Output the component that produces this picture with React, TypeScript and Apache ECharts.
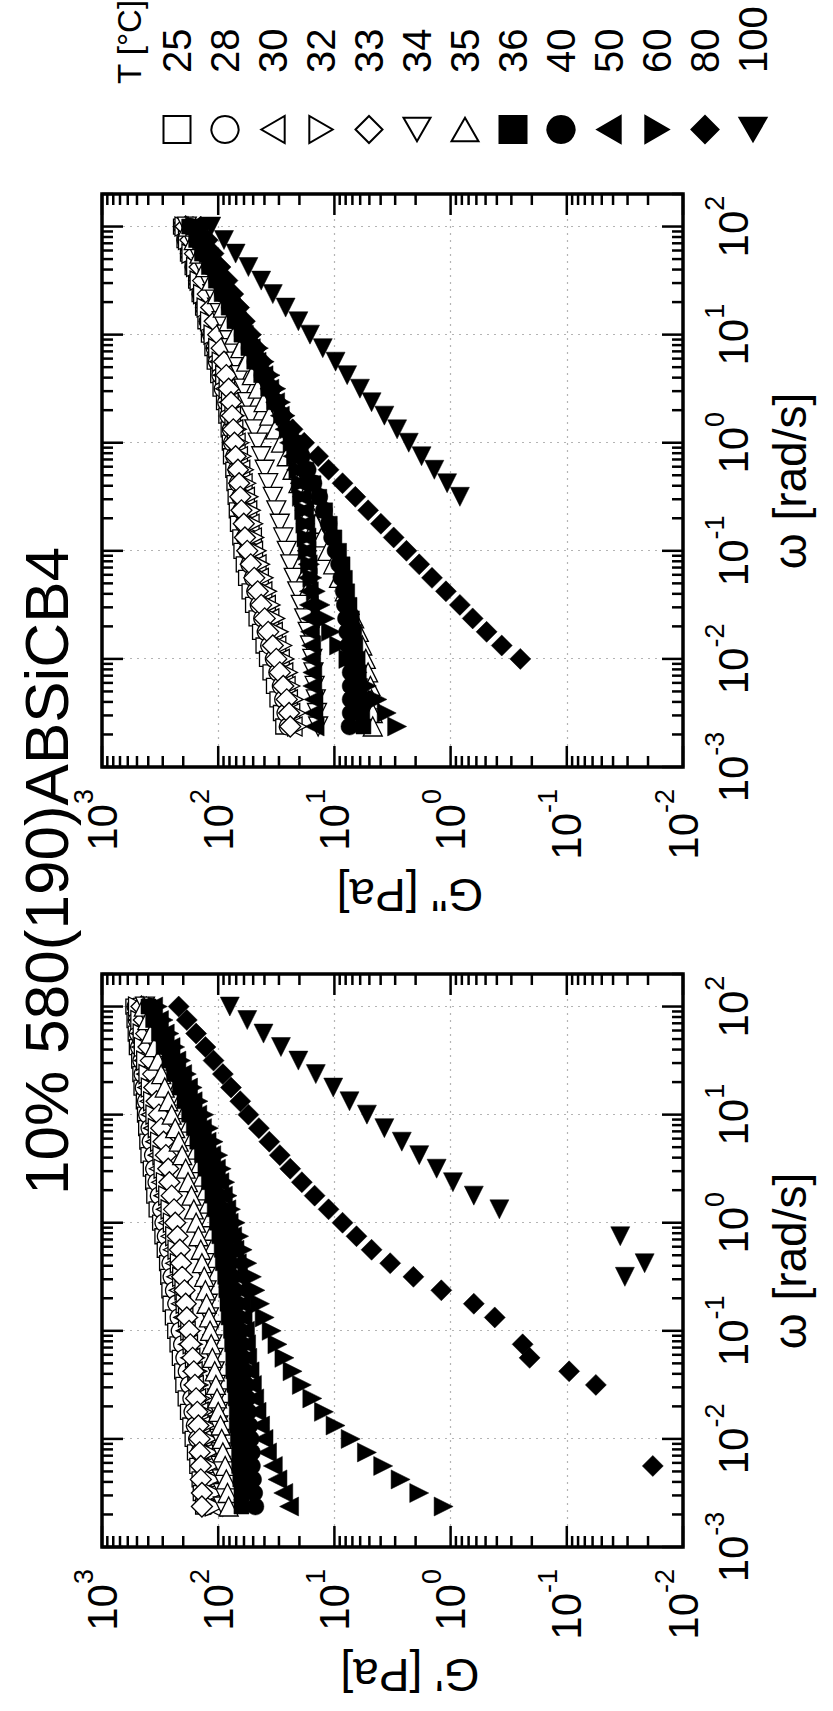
import React, { useEffect, useRef } from "react";
import * as echarts from "echarts";

const FONT = "'Liberation Sans', Arial, Helvetica, sans-serif";

// angular frequency omega [rad/s], 8 points per decade from 100 down
const OMEGA = [100, 75, 56.2, 42.2, 31.6, 23.7, 17.8, 13.3, 10, 7.5, 5.62, 4.22, 3.16, 2.37, 1.78, 1.33, 1, 0.75, 0.562, 0.422, 0.316, 0.237, 0.178, 0.133, 0.1, 0.075, 0.0562, 0.0422, 0.0316, 0.0237, 0.0178, 0.0133, 0.01, 0.0075, 0.00562, 0.00422, 0.00316, 0.00237];

const TEMPS = ["25", "28", "30", "32", "33", "34", "35", "36", "40", "50", "60", "80", "100"];

const X_TICK_EXP = [-3, -2, -1, 0, 1, 2];
const Y_TICK_EXP = [-2, -1, 0, 1, 2, 3];

// log10 G' [Pa] (null = no point)
const GP_25 = [2.73, 2.72, 2.71, 2.7, 2.68, 2.67, 2.66, 2.64, 2.63, 2.62, 2.61, 2.6, 2.58, 2.56, 2.55, 2.53, 2.5, 2.48, 2.46, 2.44, 2.43, 2.42, 2.41, 2.39, 2.37, 2.35, 2.33, 2.31, 2.3, 2.28, 2.26, 2.24, 2.22, 2.2, 2.18, 2.16, 2.15, 2.13];
const GP_28 = [2.71, 2.7, 2.69, 2.68, 2.66, 2.65, 2.64, 2.62, 2.61, 2.59, 2.58, 2.56, 2.55, 2.53, 2.51, 2.49, 2.47, 2.45, 2.43, 2.41, 2.4, 2.38, 2.36, 2.34, 2.33, 2.31, 2.29, 2.27, 2.25, 2.23, 2.22, 2.2, 2.18, 2.16, 2.14, 2.13, 2.12, 2.1];
const GP_30 = [2.7, 2.69, 2.67, 2.66, 2.64, 2.62, 2.61, 2.59, 2.58, 2.56, 2.54, 2.52, 2.51, 2.49, 2.47, 2.45, 2.43, 2.41, 2.39, 2.37, 2.36, 2.34, 2.32, 2.3, 2.28, 2.26, 2.24, 2.22, 2.21, 2.19, 2.17, 2.15, 2.13, 2.11, 2.1, 2.09, 2.07, 2.06];
const GP_32 = [2.69, 2.67, 2.65, 2.64, 2.62, 2.6, 2.58, 2.56, 2.54, 2.52, 2.5, 2.48, 2.47, 2.45, 2.43, 2.41, 2.39, 2.37, 2.35, 2.33, 2.31, 2.29, 2.28, 2.26, 2.24, 2.22, 2.2, 2.18, 2.17, 2.15, 2.13, 2.11, 2.09, 2.08, 2.07, 2.05, 2.04, 2.03];
const GP_33 = [2.66, 2.64, 2.62, 2.6, 2.58, 2.56, 2.55, 2.53, 2.51, 2.49, 2.47, 2.45, 2.43, 2.42, 2.4, 2.38, 2.37, 2.35, 2.33, 2.32, 2.31, 2.29, 2.28, 2.27, 2.25, 2.24, 2.22, 2.21, 2.2, 2.19, 2.18, 2.17, 2.16, 2.16, 2.15, 2.15, 2.14, 2.14];
const GP_34 = [2.63, 2.6, 2.57, 2.54, 2.5, 2.47, 2.44, 2.41, 2.38, 2.35, 2.32, 2.29, 2.26, 2.24, 2.21, 2.19, 2.17, 2.15, 2.14, 2.12, 2.11, 2.1, 2.09, 2.08, 2.06, 2.05, 2.04, 2.03, 2.02, 2.01, 2.0, 2.0, 1.99, 1.98, 1.98, 1.97, 1.96, 1.96];
const GP_35 = [2.64, 2.61, 2.58, 2.55, 2.52, 2.49, 2.46, 2.43, 2.4, 2.37, 2.34, 2.31, 2.28, 2.26, 2.23, 2.21, 2.19, 2.17, 2.15, 2.14, 2.12, 2.11, 2.1, 2.08, 2.07, 2.06, 2.05, 2.03, 2.02, 2.01, 2.0, 1.98, 1.97, 1.96, 1.94, 1.93, 1.92, 1.91];
const GP_36 = [2.6, 2.56, 2.51, 2.47, 2.42, 2.38, 2.33, 2.29, 2.25, 2.21, 2.18, 2.14, 2.11, 2.08, 2.05, 2.03, 2.01, 1.99, 1.97, 1.96, 1.94, 1.93, 1.92, 1.91, 1.89, 1.88, 1.87, 1.87, 1.86, 1.85, 1.84, 1.84, 1.83, 1.82, 1.82, 1.81, 1.8, 1.8];
const GP_40 = [2.58, 2.54, 2.49, 2.45, 2.4, 2.36, 2.31, 2.27, 2.23, 2.19, 2.15, 2.11, 2.08, 2.05, 2.02, 1.99, 1.97, 1.94, 1.92, 1.9, 1.88, 1.86, 1.84, 1.83, 1.81, 1.8, 1.79, 1.77, 1.76, 1.75, 1.74, 1.73, 1.72, 1.71, 1.71, 1.7, 1.69, 1.68];
const GP_50 = [2.56, 2.51, 2.46, 2.41, 2.36, 2.31, 2.26, 2.22, 2.18, 2.14, 2.1, 2.06, 2.02, 1.99, 1.96, 1.93, 1.91, 1.88, 1.86, 1.84, 1.83, 1.81, 1.8, 1.79, 1.77, 1.76, 1.75, 1.73, 1.71, 1.69, 1.67, 1.64, 1.61, 1.58, 1.53, 1.49, 1.44, 1.39];
const GP_60 = [2.52, 2.47, 2.42, 2.37, 2.32, 2.27, 2.22, 2.17, 2.12, 2.08, 2.04, 2.0, 1.97, 1.94, 1.92, 1.89, 1.85, 1.82, 1.79, 1.75, 1.71, 1.68, 1.64, 1.6, 1.54, 1.49, 1.43, 1.36, 1.28, 1.19, 1.09, 0.99, 0.86, 0.72, 0.58, 0.43, 0.27, 0.06];
const GP_80 = [2.34, 2.27, 2.19, 2.11, 2.04, 1.96, 1.89, 1.81, 1.74, 1.65, 1.56, 1.47, 1.38, 1.28, 1.17, 1.05, 0.93, 0.81, 0.68, 0.52, 0.32, 0.08, -0.2, -0.38, null, -0.62, -0.68, -1.02, -1.25, null, null, null, null, null, -1.74];
const GP_100 = [1.9, 1.75, 1.61, 1.46, 1.31, 1.16, 1.01, 0.87, 0.72, 0.57, 0.42, 0.27, 0.12, -0.02, -0.2, -0.42, null, -1.46, null, -1.67, -1.5];

// log10 G'' [Pa] (null = no point)
const GPP_25 = [2.32, 2.29, 2.26, 2.22, 2.19, 2.16, 2.13, 2.11, 2.08, 2.05, 2.03, 2.0, 1.98, 1.95, 1.93, 1.91, 1.9, 1.89, 1.87, 1.86, 1.85, 1.84, 1.83, 1.81, 1.8, 1.78, 1.76, 1.73, 1.7, 1.67, 1.64, 1.61, 1.58, 1.55, 1.52, 1.49, 1.46, 1.44];
const GPP_28 = [2.31, 2.28, 2.25, 2.21, 2.18, 2.15, 2.12, 2.09, 2.06, 2.03, 2.01, 1.98, 1.96, 1.93, 1.91, 1.89, 1.88, 1.86, 1.84, 1.83, 1.81, 1.8, 1.78, 1.77, 1.75, 1.73, 1.7, 1.68, 1.65, 1.62, 1.59, 1.56, 1.52, 1.49, 1.46, 1.44, 1.42, 1.4];
const GPP_30 = [2.3, 2.27, 2.24, 2.2, 2.17, 2.14, 2.11, 2.08, 2.05, 2.02, 1.99, 1.96, 1.94, 1.91, 1.89, 1.87, 1.85, 1.83, 1.81, 1.79, 1.77, 1.75, 1.73, 1.71, 1.7, 1.67, 1.65, 1.62, 1.59, 1.56, 1.53, 1.5, 1.47, 1.44, 1.42, 1.4, 1.38, 1.36];
const GPP_32 = [2.29, 2.26, 2.23, 2.19, 2.16, 2.13, 2.1, 2.07, 2.04, 2.0, 1.97, 1.94, 1.91, 1.89, 1.86, 1.84, 1.82, 1.8, 1.78, 1.76, 1.74, 1.72, 1.7, 1.69, 1.67, 1.64, 1.61, 1.58, 1.55, 1.51, 1.48, 1.45, 1.43, 1.4, 1.38, 1.35, 1.33, 1.32];
const GPP_33 = [2.28, 2.24, 2.2, 2.16, 2.13, 2.09, 2.06, 2.03, 2.0, 1.97, 1.95, 1.93, 1.91, 1.89, 1.88, 1.87, 1.86, 1.85, 1.83, 1.82, 1.81, 1.8, 1.78, 1.77, 1.75, 1.72, 1.69, 1.66, 1.63, 1.6, 1.57, 1.53, 1.5, 1.47, 1.44, 1.41, 1.39, 1.38];
const GPP_34 = [2.27, 2.23, 2.18, 2.14, 2.09, 2.05, 2.01, 1.97, 1.93, 1.89, 1.85, 1.81, 1.78, 1.75, 1.72, 1.69, 1.66, 1.63, 1.6, 1.57, 1.53, 1.5, 1.47, 1.44, 1.41, 1.38, 1.35, 1.32, 1.29, 1.26, 1.23, 1.21, 1.19, 1.18, 1.17, 1.16, 1.15, 1.14];
const GPP_35 = [2.26, 2.21, 2.16, 2.11, 2.06, 2.01, 1.96, 1.91, 1.86, 1.81, 1.76, 1.71, 1.66, 1.61, 1.56, 1.51, 1.46, 1.41, 1.36, 1.31, 1.26, 1.21, 1.16, 1.11, 1.06, 1.01, 0.96, 0.91, 0.87, 0.83, 0.79, 0.76, 0.73, 0.71, 0.69, 0.68, 0.67, 0.67];
const GPP_36 = [2.25, 2.19, 2.14, 2.08, 2.02, 1.97, 1.91, 1.86, 1.8, 1.74, 1.69, 1.63, 1.57, 1.52, 1.46, 1.41, 1.35, 1.29, 1.24, 1.18, 1.13, 1.08, 1.04, 1.0, 0.96, 0.93, 0.91, 0.89, 0.87, 0.85, 0.83, 0.82, 0.8, 0.79, 0.78, 0.77, 0.76, 0.75];
const GPP_40 = [2.24, 2.18, 2.13, 2.07, 2.01, 1.96, 1.9, 1.85, 1.79, 1.73, 1.68, 1.62, 1.56, 1.51, 1.45, 1.4, 1.34, 1.28, 1.23, 1.18, 1.13, 1.09, 1.05, 1.02, 0.99, 0.96, 0.94, 0.92, 0.91, 0.9, 0.89, 0.88, 0.87, 0.86, 0.86, 0.86, 0.86, 0.87];
const GPP_50 = [2.23, 2.17, 2.12, 2.06, 2.0, 1.95, 1.89, 1.84, 1.78, 1.72, 1.67, 1.61, 1.56, 1.51, 1.47, 1.43, 1.39, 1.36, 1.33, 1.3, 1.28, 1.26, 1.25, 1.24, 1.24, 1.23, 1.23, 1.22, 1.22, 1.21, 1.21, 1.2, 1.2, 1.19, 1.19, 1.18, 1.18, 1.17];
const GPP_60 = [2.2, 2.14, 2.08, 2.01, 1.95, 1.89, 1.83, 1.77, 1.71, 1.65, 1.6, 1.55, 1.5, 1.46, 1.42, 1.39, 1.36, 1.33, 1.31, 1.29, 1.28, 1.26, 1.25, 1.24, 1.23, 1.21, 1.19, 1.16, 1.12, 1.08, 1.03, 0.96, 0.88, 0.8, 0.72, 0.63, 0.55, 0.46];
const GPP_80 = [2.15, 2.09, 2.04, 1.98, 1.92, 1.87, 1.82, 1.77, 1.72, 1.67, 1.62, 1.58, 1.53, 1.49, 1.44, 1.36, 1.26, 1.14, 1.05, 0.93, 0.82, 0.71, 0.6, 0.49, 0.38, 0.27, 0.16, 0.04, -0.08, -0.19, -0.31, -0.44, -0.6];
const GPP_100 = [2.06, 1.95, 1.85, 1.74, 1.63, 1.53, 1.42, 1.31, 1.21, 1.1, 0.99, 0.89, 0.78, 0.68, 0.57, 0.46, 0.36, 0.25, 0.14, 0.03, -0.08];

const GP_LIST = [GP_25, GP_28, GP_30, GP_32, GP_33, GP_34, GP_35, GP_36, GP_40, GP_50, GP_60, GP_80, GP_100];
const GPP_LIST = [GPP_25, GPP_28, GPP_30, GPP_32, GPP_33, GPP_34, GPP_35, GPP_36, GPP_40, GPP_50, GPP_60, GPP_80, GPP_100];

const TRI_UP = "path://M5,0L10,8.66L0,8.66Z";
const TRI_DOWN = "path://M0,0L10,0L5,8.66Z";
const TRI_LEFT = "path://M0,5L8.66,0L8.66,10Z";
const TRI_RIGHT = "path://M0,0L8.66,5L0,10Z";

const SYMBOLS = ["rect", "circle", TRI_UP, TRI_DOWN, "diamond", TRI_LEFT, TRI_RIGHT, "rect", "circle", TRI_UP, TRI_DOWN, "diamond", TRI_LEFT];
const FILLED = [false, false, false, false, false, false, false, true, true, true, true, true, true];

function symSize(s: string) {
  if (s === "rect") return 15;
  if (s === "circle") return 17;
  if (s === "diamond") return 21;
  return 19;
}

function toData(vals: (number | null)[]) {
  const out: number[][] = [];
  vals.forEach((v, i) => {
    if (v !== null && v !== undefined) out.push([OMEGA[i], Math.pow(10, v)]);
  });
  return out;
}

const X_MIN = 0.001;
const X_MAX = 200;
const Y_MIN = 0.01;
const Y_MAX = 1000;

function tickList(minExp: number, maxExp: number, maxVal: number) {
  const t: { v: number; major: boolean }[] = [];
  for (let e = minExp; e <= maxExp; e++) {
    const d = Math.pow(10, e);
    t.push({ v: d, major: true });
    for (let k = 2; k <= 9; k++) t.push({ v: k * d, major: false });
  }
  return t.filter((x) => x.v <= maxVal * 1.0001);
}

function frameSeries(gi: number) {
  const xt = tickList(-3, 2, X_MAX);
  const yt = tickList(-2, 3, Y_MAX);
  return {
    type: "custom",
    xAxisIndex: gi,
    yAxisIndex: gi,
    silent: true,
    z: 20,
    clip: false,
    data: [[1, 1]],
    renderItem: (_p: any, api: any) => {
      const tl = api.coord([X_MIN, Y_MAX]);
      const br = api.coord([X_MAX, Y_MIN]);
      const left = tl[0], top = tl[1], right = br[0], bottom = br[1];
      const ch: any[] = [];
      const st = { stroke: "#000", lineWidth: 2.5 };
      const ln = (x1: number, y1: number, x2: number, y2: number) => ({ type: "line", shape: { x1, y1, x2, y2 }, style: st });
      xt.forEach((t) => {
        const x = api.coord([t.v, Y_MIN])[0];
        const L = t.major ? 21 : 11;
        ch.push(ln(x, bottom, x, bottom - L));
        ch.push(ln(x, top, x, top + L));
      });
      yt.forEach((t) => {
        const y = api.coord([X_MIN, t.v])[1];
        const L = t.major ? 21 : 11;
        ch.push(ln(left, y, left + L, y));
        ch.push(ln(right, y, right - L, y));
      });
      ch.push({ type: "rect", shape: { x: left, y: top, width: right - left, height: bottom - top }, style: { fill: "none", stroke: "#000", lineWidth: 3.5 } });
      return { type: "group", children: ch };
    },
  };
}

const rich = {
  b: { fontSize: 42, lineHeight: 64, fontFamily: FONT, color: "#000" },
  s: { fontSize: 27, lineHeight: 26, verticalAlign: "top", fontFamily: FONT, color: "#000" },
};

function labelFmt(exps: number[]) {
  return (v: number) => {
    const l = Math.log10(v);
    const e = Math.round(l);
    if (Math.abs(l - e) > 1e-6 || exps.indexOf(e) < 0) return "";
    return `{b|10}{s|${e}}`;
  };
}

const splitLine = { show: true, lineStyle: { color: "#b4b4b4", width: 1.2, type: [2, 5] } };

function buildOption() {
  const grids = [
    { left: 164, top: 102, width: 573, height: 581 },
    { left: 944, top: 102, width: 573, height: 581 },
  ];
  const xAxis = grids.map((_, gi) => ({
    type: "log",
    logBase: 10,
    gridIndex: gi,
    min: X_MIN,
    max: X_MAX,
    axisLine: { show: false },
    axisTick: { show: false },
    splitLine,
    axisLabel: { formatter: labelFmt(X_TICK_EXP), margin: 18, rich },
  }));
  const yAxis = grids.map((_, gi) => ({
    type: "log",
    logBase: 10,
    gridIndex: gi,
    min: Y_MIN,
    max: Y_MAX,
    axisLine: { show: false },
    axisTick: { show: false },
    splitLine,
    axisLabel: { formatter: labelFmt(Y_TICK_EXP), margin: 22, rich },
  }));
  const series: any[] = [];
  [GP_LIST, GPP_LIST].forEach((list, gi) => {
    TEMPS.forEach((t, i) => {
      const sym = SYMBOLS[i];
      series.push({
        type: "scatter",
        name: t,
        xAxisIndex: gi,
        yAxisIndex: gi,
        symbol: sym,
        symbolSize: symSize(sym),
        data: toData(list[i]),
        itemStyle: FILLED[i]
          ? { color: "#000", borderColor: "#000", borderWidth: 0.5, opacity: 1 }
          : { color: "#fff", borderColor: "#000", borderWidth: 1.3, opacity: 1 },
      });
    });
  });
  series.push(frameSeries(0));
  series.push(frameSeries(1));

  const txt = (text: string, x: number, y: number, size: number, rot = 0, align = "center") => ({
    type: "text",
    x,
    y,
    rotation: rot,
    silent: true,
    style: { text, fontSize: size, fontFamily: FONT, fill: "#000", textAlign: align, textVerticalAlign: "middle" },
  });

  return {
    animation: false,
    backgroundColor: "#fff",
    grid: grids,
    xAxis,
    yAxis,
    series,
    legend: {
      orient: "vertical",
      left: 1567,
      top: 153,
      itemWidth: 27,
      itemHeight: 27,
      itemGap: 0,
      padding: 0,
      selectedMode: false,
      data: TEMPS,
      itemStyle: { opacity: 1 },
      textStyle: { fontFamily: FONT, fontSize: 40, lineHeight: 48, color: "#000", padding: [0, 0, 0, 38] },
    },
    graphic: [
      txt("10% 580(190)ABSiCB4", 840, 46, 62),
      txt("G' [Pa]", 36, 410, 46, Math.PI / 2),
      txt('G" [Pa]', 816, 410, 46, Math.PI / 2),
      txt("ω [rad/s]", 450, 790, 46),
      txt("ω [rad/s]", 1230, 790, 46),
      txt("T [°C]", 1627, 129, 33, 0, "left"),
    ],
  };
}

export default function App() {
  const ref = useRef<HTMLDivElement>(null);
  useEffect(() => {
    const chart = echarts.init(ref.current!, null, { renderer: "svg", width: 1711, height: 833 });
    chart.setOption(buildOption() as any);
    return () => chart.dispose();
  }, []);
  return (
    <div style={{ position: "fixed", left: 0, top: 0, width: 833, height: 1711, overflow: "hidden", background: "#fff" }}>
      <div
        ref={ref}
        style={{
          position: "absolute",
          left: 0,
          top: 0,
          width: 1711,
          height: 833,
          transformOrigin: "0 0",
          transform: "translate(0px, 1711px) rotate(-90deg)",
        }}
      />
    </div>
  );
}
